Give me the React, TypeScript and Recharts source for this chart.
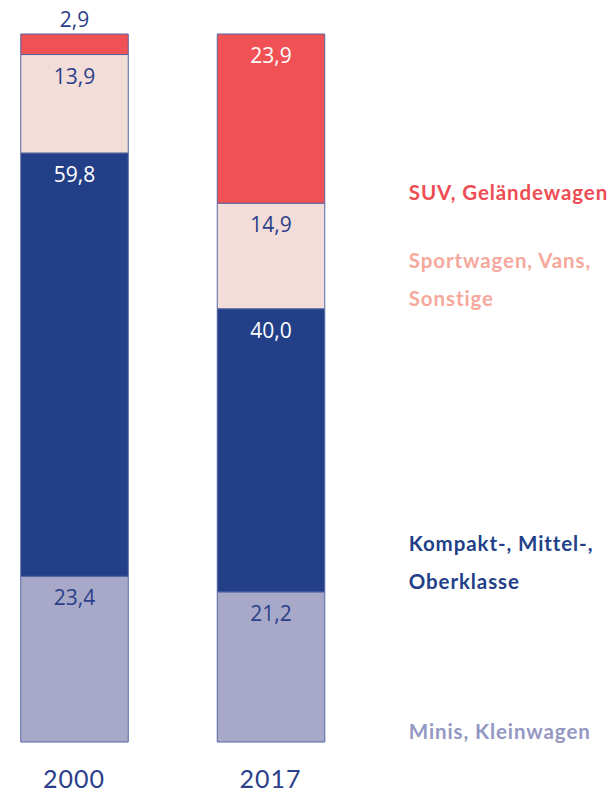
import React from 'react';
import { ComposedChart, Bar, XAxis, YAxis, LabelList } from 'recharts';

const categories = ['2000', '2017'];
const minis = [23.4, 21.2];
const kompakt = [59.8, 40.0];
const sport = [13.9, 14.9];
const suv = [2.9, 23.9];

const seriesKeys = ['minis', 'kompakt', 'sport', 'suv'];
const seriesNames = [
  ['Minis, Kleinwagen'],
  ['Kompakt-, Mittel-,', 'Oberklasse'],
  ['Sportwagen, Vans,', 'Sonstige'],
  ['SUV, Geländewagen'],
];
const fills = ['#a8a9c8', '#233f88', '#f2ddd8', '#ef5154'];
const valueColors = ['#2b3f8a', '#ffffff', '#2b3f8a', '#ffffff'];
const nameColors = ['#9497c2', '#233f88', '#f6a89c', '#ee4c53'];

const data = categories.map((c, i) => ({
  year: c,
  minis: minis[i],
  kompakt: kompakt[i],
  sport: sport[i],
  suv: suv[i],
}));

const fmt = (v: number) => v.toFixed(1).replace('.', ',');

const makeValueLabel = (s: number) => (props: any) => {
  const { x, y, width, value } = props;
  const small = value < 5;
  return (
    <text
      x={x + width / 2}
      y={small ? y - 15 : y + 21}
      textAnchor="middle"
      dominantBaseline="central"
      fill={small ? '#2b3f8a' : valueColors[s]}
      fontFamily="'Open Sans', sans-serif"
      fontSize={21}
    >
      {fmt(value)}
    </text>
  );
};

const makeNameLabel = (s: number) => (props: any) => {
  const { x, y, width, height, index } = props;
  if (index !== categories.length - 1) return null;
  const lines = seriesNames[s];
  const bottom = y + height;
  const lastY = bottom - 11;
  const lh = 38;
  return (
    <text
      x={x + width + 84}
      textAnchor="start"
      dominantBaseline="central"
      fill={nameColors[s]}
      fontFamily="Lato, sans-serif"
      fontWeight={700}
      fontSize={20.5}
      letterSpacing={0.9}
    >
      {lines.map((l, k) => (
        <tspan key={k} x={x + width + 84} y={lastY - (lines.length - 1 - k) * lh}>
          {l}
        </tspan>
      ))}
    </text>
  );
};

const YearTick = (props: any) => {
  const { x, payload } = props;
  return (
    <text
      x={x}
      y={778}
      textAnchor="middle"
      dominantBaseline="central"
      fill="#2b3f8a"
      fontFamily="Lato, sans-serif"
      fontSize={25}
      letterSpacing={1}
    >
      {payload.value}
    </text>
  );
};

export default function App() {
  return (
    <div style={{ position: 'absolute', left: 0, top: 0, width: 611, height: 793, background: '#fff' }}>
      <ComposedChart
        width={611}
        height={793}
        data={data}
        margin={{ top: 34, right: 242.25, bottom: 0, left: -24.25 }}
        barSize={107.5}
      >
        <XAxis
          dataKey="year"
          axisLine={false}
          tickLine={false}
          tick={<YearTick />}
          height={51}
          interval={0}
        />
        <YAxis hide domain={[0, 100]} type="number" />
        {seriesKeys.map((k, s) => (
          <Bar
            key={k}
            dataKey={k}
            stackId="a"
            fill={fills[s]}
            stroke="#5567a3"
            strokeWidth={1}
            isAnimationActive={false}
          >
            <LabelList dataKey={k} content={makeValueLabel(s)} />
            <LabelList dataKey={k} content={makeNameLabel(s)} />
          </Bar>
        ))}
      </ComposedChart>
    </div>
  );
}
